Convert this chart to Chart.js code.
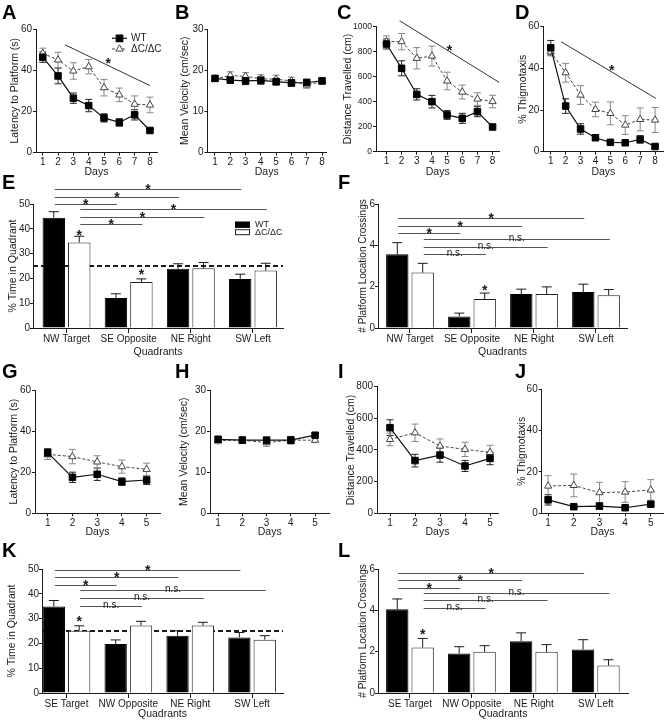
<!DOCTYPE html>
<html>
<head>
<meta charset="utf-8">
<script src="https://cdn.jsdelivr.net/npm/chart.js@4.4.1/dist/chart.umd.min.js"></script>
<style>
  html, body { margin: 0; padding: 0; background: #fff; }
  #fig { position: relative; width: 669px; height: 720px; overflow: hidden; background: #fff; }
  #fig canvas { position: absolute; }
</style>
</head>
<body>
<div id="fig"></div>
<script>
// ---- categories ----
const DAYS_ACQ = [1, 2, 3, 4, 5, 6, 7, 8];
const DAYS_REV = [1, 2, 3, 4, 5];
const QUAD_ACQ = ['NW Target', 'SE Opposite', 'NE Right', 'SW Left'];
const QUAD_REV = ['SE Target', 'NW Opposite', 'NE Right', 'SW Left'];

// ---- acquisition (A-D) ----
const latWT = [46.3, 37.2, 26.4, 22.8, 16.8, 14.6, 18.3, 10.7];
const latWTErr = [2.5, 3.8, 2.5, 3, 2, 1.8, 2.5, 1];
const latKO = [48.2, 45, 39.6, 41.7, 31.5, 28, 23.5, 23.1];
const latKOErr = [2.5, 3.7, 4, 3.5, 4, 3.3, 4, 3.8];

const velWT = [18.0, 17.6, 17.4, 17.5, 17.2, 16.9, 17.0, 17.4];
const velWTErr = [0.6, 0.8, 0.9, 0.9, 0.8, 0.8, 0.8, 0.6];
const velKO = [17.9, 18.7, 18.5, 17.9, 17.8, 17.4, 16.4, 17.2];
const velKOErr = [0.6, 0.9, 0.9, 1.0, 1.0, 0.9, 0.8, 0.7];

const distWT = [859, 665, 457, 399, 293, 266, 319, 197];
const distWTErr = [40, 60, 45, 50, 35, 40, 40, 20];
const distKO = [878, 878, 745, 763, 564, 476, 420, 400];
const distKOErr = [45, 65, 85, 80, 70, 55, 50, 50];

const thigWT = [49.9, 21.9, 10.9, 6.7, 4.5, 4.3, 5.9, 2.5];
const thigWTErr = [3.5, 3.5, 2.5, 1.2, 0.7, 0.7, 1.8, 0.7];
const thigKO = [48, 37.9, 27.2, 20.3, 18.4, 12.8, 15.5, 15.2];
const thigKOErr = [2, 4.5, 4.5, 3.5, 5.5, 4.5, 5.5, 6];

// ---- probe trial (E, F) ----
const timeWT = [44.5, 12.1, 23.9, 19.8];
const timeWTErr = [2.4, 1.7, 2.0, 1.9];
const timeKO = [34.5, 18.5, 24.1, 23.2];
const timeKOErr = [2.5, 1.3, 2.3, 2.9];

const crossWT = [3.57, 0.56, 1.64, 1.74];
const crossWTErr = [0.56, 0.16, 0.24, 0.38];
const crossKO = [2.68, 1.4, 1.64, 1.58];
const crossKOErr = [0.45, 0.29, 0.35, 0.28];

// ---- reversal (G-J) ----
const latRevWT = [29.5, 17.5, 19, 15.4, 16.2];
const latRevWTErr = [2, 2.5, 3, 1.8, 2.2];
const latRevKO = [28.7, 27.6, 25, 22.7, 21.4];
const latRevKOErr = [2.5, 3.5, 3, 3.2, 3];

const velRevWT = [18.0, 17.8, 17.8, 17.8, 19.0];
const velRevWTErr = [0.7, 0.8, 0.7, 0.9, 0.5];
const velRevKO = [17.7, 17.8, 17.2, 17.8, 17.8];
const velRevKOErr = [0.8, 0.7, 0.9, 0.7, 0.6];

const distRevWT = [541, 333, 368, 299, 347];
const distRevWTErr = [50, 40, 45, 35, 40];
const distRevKO = [467, 509, 425, 404, 385];
const distRevKOErr = [40, 55, 45, 45, 45];

const thigRevWT = [6.5, 3.2, 3.5, 2.7, 4.4];
const thigRevWTErr = [2.5, 0.8, 1.5, 0.8, 1];
const thigRevKO = [13.2, 13.5, 10, 10.3, 11.3];
const thigRevKOErr = [5, 5.5, 5, 5, 5];

// ---- reversal probe (K, L) ----
const timeRevWT = [34.9, 19.8, 23.1, 22.4];
const timeRevWTErr = [2.4, 1.6, 2.0, 2.0];
const timeRevKO = [25.1, 27.2, 27.2, 21.5];
const timeRevKOErr = [2.0, 1.7, 1.3, 1.6];

const crossRevWT = [4.05, 1.91, 2.51, 2.1];
const crossRevWTErr = [0.5, 0.33, 0.4, 0.48];
const crossRevKO = [2.2, 1.99, 1.99, 1.33];
const crossRevKOErr = [0.44, 0.3, 0.35, 0.28];

// ---- statistics marks: [dsFrom, idxFrom, dsTo, idxTo, yValue, label] ----
const SIG_E = [[0, 0, 0, 3, 55.9, '*'], [0, 0, 0, 2, 53, '*'], [0, 0, 0, 1, 49.9, '*'],
               [1, 0, 1, 3, 48, '*'], [1, 0, 1, 2, 44.9, '*'], [1, 0, 1, 1, 41.8, '*']];
const SIG_F = [[0, 0, 0, 3, 5.31, '*'], [0, 0, 0, 2, 4.94, '*'], [0, 0, 0, 1, 4.58, '*'],
               [1, 0, 1, 3, 4.31, 'n.s.'], [1, 0, 1, 2, 3.94, 'n.s.'], [1, 0, 1, 1, 3.57, 'n.s.']];
const SIG_K = [[0, 0, 0, 3, 49.5, '*'], [0, 0, 0, 2, 46.6, '*'], [0, 0, 0, 1, 43.5, '*'],
               [1, 0, 1, 3, 41.4, 'n.s.'], [1, 0, 1, 2, 38.3, 'n.s.'], [1, 0, 1, 1, 35.2, 'n.s.']];
const SIG_L = [[0, 0, 0, 3, 5.8, '*'], [0, 0, 0, 2, 5.46, '*'], [0, 0, 0, 1, 5.1, '*'],
               [1, 0, 1, 3, 4.86, 'n.s.'], [1, 0, 1, 2, 4.49, 'n.s.'], [1, 0, 1, 1, 4.13, 'n.s.']];
// [dataset, index, yValue] stars over single bars
const STAR_E = [[1, 0, 38.9], [1, 1, 22.8]];
const STAR_F = [[1, 1, 2.0]];
const STAR_K = [[1, 0, 30.2]];
const STAR_L = [[1, 0, 3.0]];
// trend lines [x1, y1, x2, y2] and star [x, y] in data units
const TREND_A = [2.46, 52.3, 8, 32.5], TREND_A_STAR = [5.28, 45];
const TREND_C = [1.86, 1045, 8.43, 553], TREND_C_STAR = [5.16, 838];
const TREND_D = [1.69, 52.8, 8.05, 25.6], TREND_D_STAR = [5.09, 40.8];
const CHANCE = 25;

const FONT = "'Liberation Sans', Arial, sans-serif";
const INK = '#1a1a1a';
Chart.defaults.font.family = FONT;
Chart.defaults.color = INK;

function addCanvas(box) {
  const c = document.createElement('canvas');
  c.width = box[2]; c.height = box[3];
  c.style.left = box[0] + 'px'; c.style.top = box[1] + 'px';
  c.style.width = box[2] + 'px'; c.style.height = box[3] + 'px';
  document.getElementById('fig').appendChild(c);
  return c;
}

function lineSets(x, wt, wtErr, ko, koErr) {
  const pts = v => v.map((y, i) => ({ x: x[i], y }));
  return [
    { label: 'WT', data: pts(wt), errors: wtErr, errColor: '#222',
      borderColor: '#111', borderWidth: 1.2, pointStyle: 'rect', pointRadius: 4.6,
      pointBackgroundColor: '#000', pointBorderColor: '#000', pointBorderWidth: 1 },
    { label: 'ΔC/ΔC', data: pts(ko), errors: koErr, errColor: '#888',
      borderColor: '#444', borderWidth: 1, borderDash: [3, 2], pointStyle: 'triangle', pointRadius: 4.2,
      pointBackgroundColor: '#fff', pointBorderColor: '#444', pointBorderWidth: 1 }
  ];
}

function barSets(wt, wtErr, ko, koErr) {
  const pts = v => v.map((y, i) => ({ x: i + 1, y }));
  const common = { borderWidth: 1, categoryPercentage: 0.82, barPercentage: 0.88 };
  return [
    Object.assign({ label: 'WT', data: pts(wt), errors: wtErr, errColor: INK,
      backgroundColor: '#000', borderColor: '#000' }, common),
    Object.assign({ label: 'ΔC/ΔC', data: pts(ko), errors: koErr, errColor: INK,
      backgroundColor: '#fff', borderColor: '#222' }, common)
  ];
}

function star(ctx, x, y) {
  ctx.font = 'bold 14px ' + FONT;
  ctx.fillStyle = INK;
  ctx.textAlign = 'center';
  ctx.textBaseline = 'alphabetic';
  ctx.fillText('*', x, y + 0.57 * 14);
}

function errorBars(chart, both, cap) {
  const { ctx, scales: { y } } = chart;
  chart.data.datasets.forEach((ds, i) => {
    const meta = chart.getDatasetMeta(i);
    ctx.save();
    ctx.strokeStyle = ds.errColor;
    ctx.lineWidth = 1;
    meta.data.forEach((el, j) => {
      const v = ds.data[j].y, e = ds.errors[j];
      const hi = y.getPixelForValue(v + e);
      const lo = both ? y.getPixelForValue(v - e) : el.y;
      ctx.beginPath();
      ctx.moveTo(el.x, lo); ctx.lineTo(el.x, hi);
      ctx.moveTo(el.x - cap, hi); ctx.lineTo(el.x + cap, hi);
      if (both) { ctx.moveTo(el.x - cap, lo); ctx.lineTo(el.x + cap, lo); }
      ctx.stroke();
    });
    ctx.restore();
  });
}

function annotate(g, p) {
  const [cx, cy] = g.box;
  return {
    id: 'annot' + g.letter,
    beforeDatasetsDraw(chart) {
      const { ctx, chartArea: a, scales: { y } } = chart;
      if (p.chance !== undefined) {
        const yy = y.getPixelForValue(p.chance);
        ctx.save();
        ctx.strokeStyle = INK; ctx.lineWidth = 2; ctx.setLineDash([5, 3]);
        ctx.beginPath(); ctx.moveTo(a.left, yy); ctx.lineTo(a.right, yy); ctx.stroke();
        ctx.restore();
      }
      if (!p.bar) errorBars(chart, true, 3.5);
    },
    afterDatasetsDraw(chart) {
      const { ctx, scales: { x, y } } = chart;
      if (p.bar) errorBars(chart, false, 5);
      ctx.save();
      (p.pairs || []).forEach(([da, ia, db, ib, v, label]) => {
        const x1 = chart.getDatasetMeta(da).data[ia].x + 1;
        const x2 = chart.getDatasetMeta(db).data[ib].x + 1;
        const yy = Math.round(y.getPixelForValue(v)) + 0.5;
        ctx.strokeStyle = '#555'; ctx.lineWidth = 1;
        ctx.beginPath(); ctx.moveTo(x1, yy); ctx.lineTo(x2, yy); ctx.stroke();
        if (label === '*') {
          star(ctx, (x1 + x2) / 2, yy - 3.5);
        } else {
          ctx.font = '10px ' + FONT; ctx.fillStyle = INK;
          ctx.textAlign = 'center'; ctx.textBaseline = 'alphabetic';
          ctx.fillText(label, (x1 + x2) / 2, yy + 1);
        }
      });
      (p.stars || []).forEach(([d, i, v]) => {
        star(ctx, chart.getDatasetMeta(d).data[i].x, y.getPixelForValue(v));
      });
      if (p.trend) {
        const t = p.trend;
        ctx.strokeStyle = '#333'; ctx.lineWidth = 1;
        ctx.beginPath();
        ctx.moveTo(x.getPixelForValue(t[0]), y.getPixelForValue(t[1]));
        ctx.lineTo(x.getPixelForValue(t[2]), y.getPixelForValue(t[3]));
        ctx.stroke();
        star(ctx, x.getPixelForValue(p.trendStar[0]), y.getPixelForValue(p.trendStar[1]));
      }
      if (p.lineLegend) {
        const [lx, ly] = p.lineLegend;
        chart.data.datasets.forEach((ds, i) => {
          const x0 = lx - cx, yy = ly - cy + i * 10.7;
          ctx.strokeStyle = ds.borderColor; ctx.lineWidth = ds.borderWidth;
          ctx.setLineDash(ds.borderDash || []);
          ctx.beginPath(); ctx.moveTo(x0, yy); ctx.lineTo(x0 + 15, yy); ctx.stroke();
          ctx.setLineDash([]);
          ctx.fillStyle = ds.pointBackgroundColor; ctx.strokeStyle = ds.pointBorderColor;
          Chart.helpers.drawPoint(ctx, { pointStyle: ds.pointStyle, radius: ds.pointRadius, borderWidth: 1, rotation: 0 }, x0 + 7.5, yy);
          ctx.font = '10px ' + FONT; ctx.fillStyle = INK;
          ctx.textAlign = 'left'; ctx.textBaseline = 'middle';
          ctx.fillText(ds.label, x0 + 19, yy);
        });
      }
      if (p.boxLegend) {
        const [lx, ly] = p.boxLegend;
        chart.data.datasets.forEach((ds, i) => {
          const x0 = lx - cx, y0 = ly - cy + i * 7.5;
          ctx.fillStyle = ds.backgroundColor; ctx.strokeStyle = ds.borderColor; ctx.lineWidth = 1;
          ctx.fillRect(x0, y0, 15, 6); ctx.strokeRect(x0 + 0.5, y0 + 0.5, 14, 5);
          ctx.font = '9px ' + FONT; ctx.fillStyle = INK;
          ctx.textAlign = 'left'; ctx.textBaseline = 'middle';
          ctx.fillText(ds.label, x0 + 20, y0 + 3);
        });
      }
      ctx.restore();
    },
    afterDraw(chart) {
      const ctx = chart.ctx;
      ctx.save();
      ctx.font = 'bold 20px ' + FONT; ctx.fillStyle = '#000';
      ctx.textAlign = 'left'; ctx.textBaseline = 'alphabetic';
      ctx.fillText(g.letter, g.letterAt[0] - cx, g.letterAt[1] - cy);
      ctx.restore();
    }
  };
}

function panel(g, type, datasets, xTicks, xLabels, p) {
  const [cx, cy, cw, ch] = g.box;
  const bar = type === 'bar';
  p.bar = bar;
  new Chart(addCanvas(g.box), {
    type,
    data: { datasets },
    options: {
      responsive: false, animation: false, events: [],
      layout: { padding: { left: 0, top: g.top - cy, right: cx + cw - g.right, bottom: 0 } },
      plugins: { legend: { display: false }, tooltip: { enabled: false } },
      scales: {
        x: {
          type: 'linear', min: g.xMin, max: g.xMax, offset: false,
          afterBuildTicks: s => { s.ticks = xTicks.map(v => ({ value: v })); },
          afterFit: s => { s.height = cy + ch - g.bottom; },
          border: { color: INK, width: 1 },
          grid: { display: true, drawOnChartArea: false, drawTicks: true, offset: false,
                  tickLength: bar ? 5 : 3, color: INK },
          ticks: { font: { size: 10 }, padding: bar ? 0 : 1, maxRotation: 0, autoSkip: false,
                   callback: v => xLabels ? xLabels[v - 1] : String(v) },
          title: { display: true, text: bar ? 'Quadrants' : 'Days', font: { size: 10.5 },
                   padding: { top: 0, bottom: Math.max(0, cy + ch - g.xTitleY - 6.3) } }
        },
        y: {
          type: 'linear', min: 0, max: g.yMax,
          afterFit: s => { s.width = g.axisX - cx; },
          border: { color: INK, width: 1 },
          grid: { display: true, drawOnChartArea: false, drawTicks: true, tickLength: 3, color: INK },
          ticks: { stepSize: g.yStep, font: { size: g.yTickSize || 10 }, padding: bar ? 0 : 1,
                   callback: v => String(v) },
          title: { display: true, text: g.yTitle, font: { size: g.yTitleSize || 10.5 },
                   padding: { top: g.yTitleX - cx - (g.yTitleSize || 10.5) * 0.6, bottom: 0 } }
        }
      }
    },
    plugins: [annotate(g, p)]
  });
}

// ---- row 1 ----
panel({ letter: 'A', letterAt: [2, 19], box: [0, 0, 172, 180], axisX: 36, top: 29, bottom: 152.5, right: 157,
        xMin: 0.56, xMax: 8.46, yMax: 60, yStep: 20, yTitle: 'Latency to Platform (s)', yTitleX: 15, xTitleY: 172 },
      'line', lineSets(DAYS_ACQ, latWT, latWTErr, latKO, latKOErr), DAYS_ACQ, null,
      { trend: TREND_A, trendStar: TREND_A_STAR, lineLegend: [112, 38.3] });
panel({ letter: 'B', letterAt: [175, 19], box: [172, 0, 163, 180], axisX: 207.5, top: 29, bottom: 152.5, right: 326,
        xMin: 0.51, xMax: 8.26, yMax: 30, yStep: 10, yTitle: 'Mean Velocity (cm/sec)', yTitleX: 185, xTitleY: 172 },
      'line', lineSets(DAYS_ACQ, velWT, velWTErr, velKO, velKOErr), DAYS_ACQ, null, {});
panel({ letter: 'C', letterAt: [337, 19], box: [335, 0, 170, 180], axisX: 376, top: 26.3, bottom: 151.7, right: 502,
        xMin: 0.31, xMax: 8.45, yMax: 1000, yStep: 200, yTickSize: 8.5, yTitle: 'Distance Travelled (cm)', yTitleX: 348, xTitleY: 172 },
      'line', lineSets(DAYS_ACQ, distWT, distWTErr, distKO, distKOErr), DAYS_ACQ, null,
      { trend: TREND_C, trendStar: TREND_C_STAR });
panel({ letter: 'D', letterAt: [515, 19], box: [505, 0, 164, 180], axisX: 543.3, top: 26.7, bottom: 151.7, right: 668,
        xMin: 0.5, xMax: 8.56, yMax: 60, yStep: 20, yTitle: '% Thigmotaxis', yTitleX: 523, xTitleY: 172 },
      'line', lineSets(DAYS_ACQ, thigWT, thigWTErr, thigKO, thigKOErr), DAYS_ACQ, null,
      { trend: TREND_D, trendStar: TREND_D_STAR });

// ---- row 2 ----
panel({ letter: 'E', letterAt: [2, 188.5], box: [0, 170, 335, 190], axisX: 33, top: 204, bottom: 328, right: 283,
        xMin: 0.461, xMax: 4.483, yMax: 50, yStep: 10, yTitle: '% Time in Quadrant', yTitleX: 13, xTitleY: 352 },
      'bar', barSets(timeWT, timeWTErr, timeKO, timeKOErr), [1, 2, 3, 4], QUAD_ACQ,
      { chance: CHANCE, pairs: SIG_E, stars: STAR_E, boxLegend: [235, 221.7] });
panel({ letter: 'F', letterAt: [338, 188.5], box: [335, 170, 334, 190], axisX: 378, top: 204, bottom: 328, right: 627,
        xMin: 0.484, xMax: 4.5, yMax: 6, yStep: 2, yTitle: '# Platform Location Crossings', yTitleSize: 10, yTitleX: 363, xTitleY: 352 },
      'bar', barSets(crossWT, crossWTErr, crossKO, crossKOErr), [1, 2, 3, 4], QUAD_ACQ,
      { pairs: SIG_F, stars: STAR_F });

// ---- row 3 ----
panel({ letter: 'G', letterAt: [2, 378], box: [0, 360, 172, 180], axisX: 35, top: 390, bottom: 513.3, right: 160,
        xMin: 0.487, xMax: 5.54, yMax: 60, yStep: 20, yTitle: 'Latency to Platform (s)', yTitleX: 14, xTitleY: 532 },
      'line', lineSets(DAYS_REV, latRevWT, latRevWTErr, latRevKO, latRevKOErr), DAYS_REV, null, {});
panel({ letter: 'H', letterAt: [175, 378], box: [172, 360, 163, 180], axisX: 210, top: 390, bottom: 513.3, right: 333,
        xMin: 0.667, xMax: 5.59, yMax: 30, yStep: 10, yTitle: 'Mean Velocity (cm/sec)', yTitleX: 184, xTitleY: 532 },
      'line', lineSets(DAYS_REV, velRevWT, velRevWTErr, velRevKO, velRevKOErr), DAYS_REV, null, {});
panel({ letter: 'I', letterAt: [338, 378], box: [335, 360, 170, 180], axisX: 377, top: 386.7, bottom: 513.3, right: 498,
        xMin: 0.48, xMax: 5.32, yMax: 800, yStep: 200, yTitle: 'Distance Travelled (cm)', yTitleX: 351, xTitleY: 532 },
      'line', lineSets(DAYS_REV, distRevWT, distRevWTErr, distRevKO, distRevKOErr), DAYS_REV, null, {});
panel({ letter: 'J', letterAt: [515, 378], box: [505, 360, 164, 180], axisX: 541.7, top: 389.3, bottom: 513.3, right: 668,
        xMin: 0.75, xMax: 5.49, yMax: 60, yStep: 20, yTitle: '% Thigmotaxis', yTitleX: 522, xTitleY: 532 },
      'line', lineSets(DAYS_REV, thigRevWT, thigRevWTErr, thigRevKO, thigRevKOErr), DAYS_REV, null, {});

// ---- row 4 ----
panel({ letter: 'K', letterAt: [2, 557], box: [0, 538, 335, 182], axisX: 42, top: 569, bottom: 693, right: 283,
        xMin: 0.604, xMax: 4.5, yMax: 50, yStep: 10, yTitle: '% Time in Quadrant', yTitleX: 12, xTitleY: 714 },
      'bar', barSets(timeRevWT, timeRevWTErr, timeRevKO, timeRevKOErr), [1, 2, 3, 4], QUAD_REV,
      { chance: CHANCE, pairs: SIG_K, stars: STAR_K });
panel({ letter: 'L', letterAt: [338, 557], box: [335, 538, 334, 182], axisX: 378, top: 569, bottom: 693, right: 628,
        xMin: 0.484, xMax: 4.52, yMax: 6, yStep: 2, yTitle: '# Platform Location Crossings', yTitleSize: 10, yTitleX: 363, xTitleY: 714 },
      'bar', barSets(crossRevWT, crossRevWTErr, crossRevKO, crossRevKOErr), [1, 2, 3, 4], QUAD_REV,
      { pairs: SIG_L, stars: STAR_L });
</script>
</body>
</html>
